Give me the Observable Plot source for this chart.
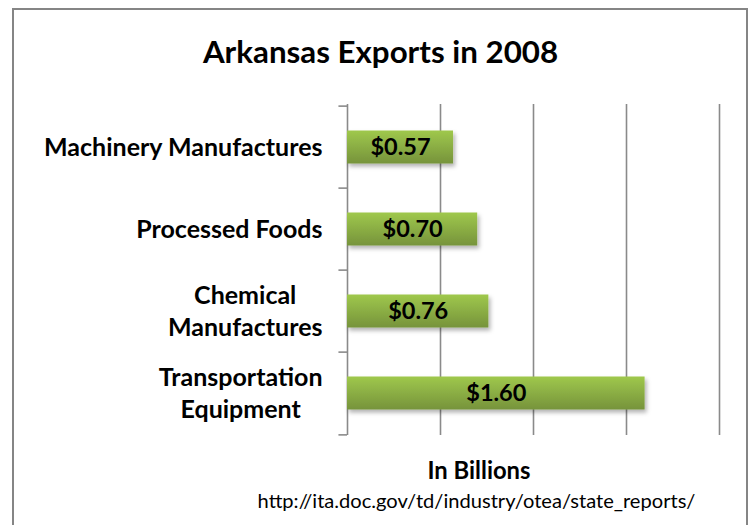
<!DOCTYPE html>
<html>
<head>
<meta charset="utf-8">
<script src="https://cdn.jsdelivr.net/npm/d3@7"></script>
<script src="https://cdn.jsdelivr.net/npm/@observablehq/plot@0.6"></script>
<style>
  html, body { margin: 0; padding: 0; background: #fff; }
  body { width: 751px; height: 525px; overflow: hidden; position: relative; font-family: Lato, "Noto Sans", sans-serif; }
  #frame { position: absolute; left: 12px; top: 8px; width: 732px; height: 600px; border: 2px solid #858585; }
  #title { position: absolute; left: 380.5px; top: 35.5px; transform: translateX(-50%); white-space: nowrap;
           font-size: 31.3px; font-weight: 700; line-height: 1; color: #000; }
  #chart { position: absolute; left: 0; top: 0; }
  #xlabel { position: absolute; left: 479px; top: 459px; transform: translateX(-50%); white-space: nowrap;
            font-size: 23.8px; font-weight: 700; line-height: 1; color: #000; }
  #source { position: absolute; left: 476.5px; top: 490px; transform: translateX(-50%); white-space: nowrap;
            font-size: 20.1px; font-weight: 400; line-height: 1; color: #000; }
</style>
</head>
<body>
<div id="frame"></div>
<div id="chart"></div>
<div id="title">Arkansas Exports in 2008</div>
<div id="xlabel">In Billions</div>
<div id="source">http://ita.doc.gov/td/industry/otea/state_reports/</div>
<script>
// ---- data ----
const categories = ["Machinery Manufactures", "Processed Foods", "Chemical Manufactures", "Transportation Equipment"];
const values = [0.57, 0.70, 0.76, 1.60];
const categoryLabels = ["Machinery Manufactures", "Processed Foods", "Chemical\nManufactures", "Transportation\nEquipment"];
const gridTicks = [0.5, 1.0, 1.5, 2.0];
const xDomain = [0, 2];

// ---- layout ----
const W = 751, H = 450, mt = 104, mb = 15, ml = 347, mr = 32;
const bw = (H - mt - mb) / categories.length;
const rows = categories.map((c, i) => ({category: c, value: values[i], label: categoryLabels[i]}));
const fmt = d3.format("$.2f");
const grey = "#8a8a8a";

const chart = Plot.plot({
  width: W, height: H,
  marginTop: mt, marginBottom: mb, marginLeft: ml, marginRight: mr,
  style: {background: "transparent", overflow: "visible", fontFamily: "Lato, 'Noto Sans', sans-serif"},
  x: {domain: xDomain, axis: null},
  y: {domain: categories, axis: null, padding: 0},
  marks: [
    Plot.ruleX(gridTicks, {stroke: grey, strokeWidth: 1.6}),
    Plot.ruleX([0], {stroke: grey, strokeWidth: 1.6}),
    Plot.ruleY(categories, {y: d => d, x1: -0.046, x2: 0, dy: -bw / 2, stroke: grey, strokeWidth: 1.6}),
    Plot.ruleY(categories.slice(-1), {y: d => d, x1: -0.046, x2: 0, dy: bw / 2, stroke: grey, strokeWidth: 1.6}),
    Plot.barX(rows, {y: "category", x: "value", fill: "url(#barGrad)", insetTop: 24.5, insetBottom: 24.5}),
    Plot.text(rows, {y: "category", x: d => d.value / 2, text: d => fmt(d.value), fill: "#000",
                     fontSize: 23.5, fontWeight: 700, textAnchor: "middle", dy: 0}),
    Plot.text(rows, {y: "category", x: 0, text: "label", dx: -25, dy: -2, textAnchor: "end", fill: "#000",
                     fontSize: 25, fontWeight: 700, lineHeight: 1.28})
  ]
});
document.getElementById("chart").appendChild(chart);

// gradient + shadow definitions
const svg = d3.select(chart);
const defs = svg.insert("defs", ":first-child");
const g = defs.append("linearGradient").attr("id", "barGrad").attr("x1", 0).attr("y1", 0).attr("x2", 0).attr("y2", 1);
g.append("stop").attr("offset", "0%").attr("stop-color", "#9fc84c");
g.append("stop").attr("offset", "100%").attr("stop-color", "#76933b");
const f = defs.append("filter").attr("id", "barShadow").attr("x", "-10%").attr("y", "-30%").attr("width", "130%").attr("height", "190%");
f.append("feDropShadow").attr("dx", 2).attr("dy", 3).attr("stdDeviation", 2.2).attr("flood-color", "#000").attr("flood-opacity", 0.3);
svg.selectAll("rect").filter(function() { return this.getAttribute("fill") === "url(#barGrad)" || (this.parentNode && this.parentNode.getAttribute("fill") === "url(#barGrad)"); })
   .attr("filter", "url(#barShadow)");

// center multi-line category labels within their block (right edge kept)
chart.querySelectorAll("text").forEach(function(t) {
  const tspans = t.querySelectorAll("tspan");
  if (tspans.length < 2) return;
  let w = 0;
  tspans.forEach(s => { w = Math.max(w, s.getComputedTextLength()); });
  t.style.textAnchor = "middle";
  t.setAttribute("text-anchor", "middle");
  tspans.forEach(s => { s.setAttribute("x", -w / 2); s.style.textAnchor = "middle"; });
});
</script>
</body>
</html>
